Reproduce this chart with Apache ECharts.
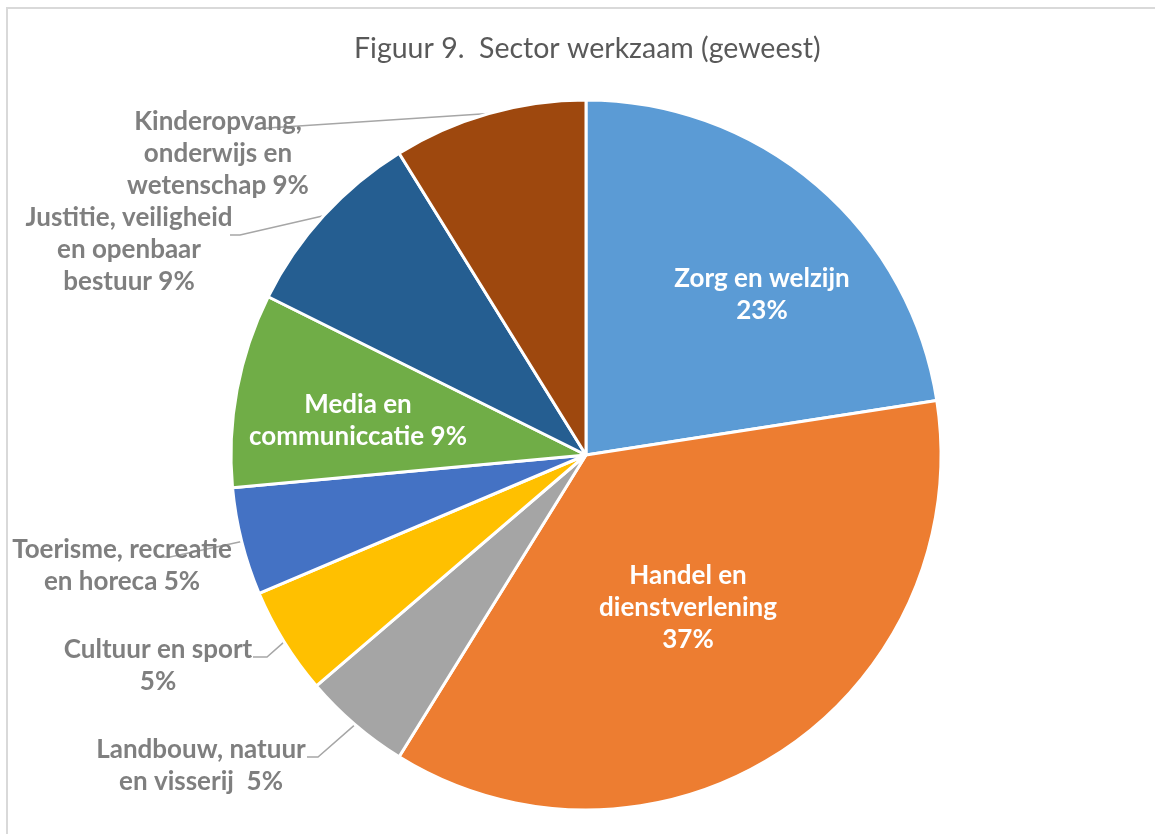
<!DOCTYPE html>
<html>
<head>
<meta charset="utf-8">
<title>Sector werkzaam</title>
<script src="https://cdn.jsdelivr.net/npm/echarts@6/dist/echarts.min.js"></script>
<style>
html,body{margin:0;padding:0;background:#fff;overflow:hidden;}
#frame{position:absolute;left:6px;top:7px;width:1400px;height:1000px;border-left:2px solid #d9d9d9;border-top:2px solid #d9d9d9;}
#main{position:absolute;left:0;top:0;width:1155px;height:834px;}
</style>
</head>
<body>
<div id="frame"></div>
<div id="main"></div>
<script>
// sectoren, met de klok mee vanaf 12 uur
var sectors = [
    'Zorg en welzijn',
    'Handel en dienstverlening',
    'Landbouw, natuur en visserij',
    'Cultuur en sport',
    'Toerisme, recreatie en horeca',
    'Media en communiccatie',
    'Justitie, veiligheid en openbaar bestuur',
    'Kinderopvang, onderwijs en wetenschap'
];
var percents = [23, 37, 5, 5, 5, 9, 9, 9];
var sectorColors = ['#5B9BD5', '#ED7D31', '#A5A5A5', '#FFC000', '#4472C4', '#70AD47', '#255E91', '#9E480E'];
// zoals Excel de labels afbreekt, het percentage komt erachter
var labelText = [
    'Zorg en welzijn\n',
    'Handel en\ndienstverlening\n',
    'Landbouw, natuur\nen visserij  ',
    'Cultuur en sport\n',
    'Toerisme, recreatie\nen horeca ',
    'Media en\ncommuniccatie ',
    'Justitie, veiligheid\nen openbaar\nbestuur ',
    'Kinderopvang,\nonderwijs en\nwetenschap '
];
var insideIdx = [0, 1, 5];

var myChart = echarts.init(document.getElementById('main'));

// plek van elk label (midden van het tekstblok) en eind van de lijn
var spots = [
    {x: 762, y: 295},
    {x: 688, y: 608},
    {x: 201, y: 766, line: [[318, 757], [307, 757]]},
    {x: 158, y: 666, line: [[267, 657], [253, 657]]},
    {x: 122, y: 566, line: [[170, 557], [157, 557]]},
    {x: 358, y: 421},
    {x: 129, y: 250, line: [[240, 235], [230, 235]]},
    {x: 218, y: 154, line: [[268, 128], [257, 129]]}
];

var pieData = [];
for (let i = 0; i < sectors.length; i++) {
    let inside = insideIdx.indexOf(i) >= 0;
    pieData.push({
        name: sectors[i],
        value: percents[i],
        label: inside ? {position: 'inside', color: '#ffffff'} : {position: 'outside'},
        labelLine: {show: !inside}
    });
}

const option = {
    animation: false,
    color: sectorColors,
    title: {
        text: 'Figuur 9.  Sector werkzaam (geweest)',
        left: 354,
        top: 34,
        padding: 0,
        textStyle: {
            fontFamily: 'Lato',
            fontSize: 28.5,
            fontWeight: 'normal',
            color: '#595959'
        }
    },
    series: [
        {
            type: 'pie',
            center: [586, 455],
            radius: 355,
            startAngle: 90,
            clockwise: true,
            avoidLabelOverlap: false,
            data: pieData,
            itemStyle: {
                borderColor: '#ffffff',
                borderWidth: 3
            },
            label: {
                fontFamily: 'Lato',
                fontSize: 26,
                fontWeight: 'bold',
                lineHeight: 32,
                color: '#7f7f7f',
                align: 'center',
                formatter: function (p) {
                    return labelText[p.dataIndex] + p.value + '%';
                }
            },
            labelLine: {
                lineStyle: {color: '#a6a6a6', width: 1.5}
            },
            labelLayout: function (params) {
                var s = spots[params.dataIndex];
                var res = {x: s.x, y: s.y, align: 'center', verticalAlign: 'middle'};
                if (s.line && params.labelLinePoints) {
                    res.labelLinePoints = [params.labelLinePoints[0], s.line[0], s.line[1]];
                }
                return res;
            },
            emphasis: {disabled: true}
        }
    ]
};

myChart.setOption(option);
</script>
</body>
</html>
